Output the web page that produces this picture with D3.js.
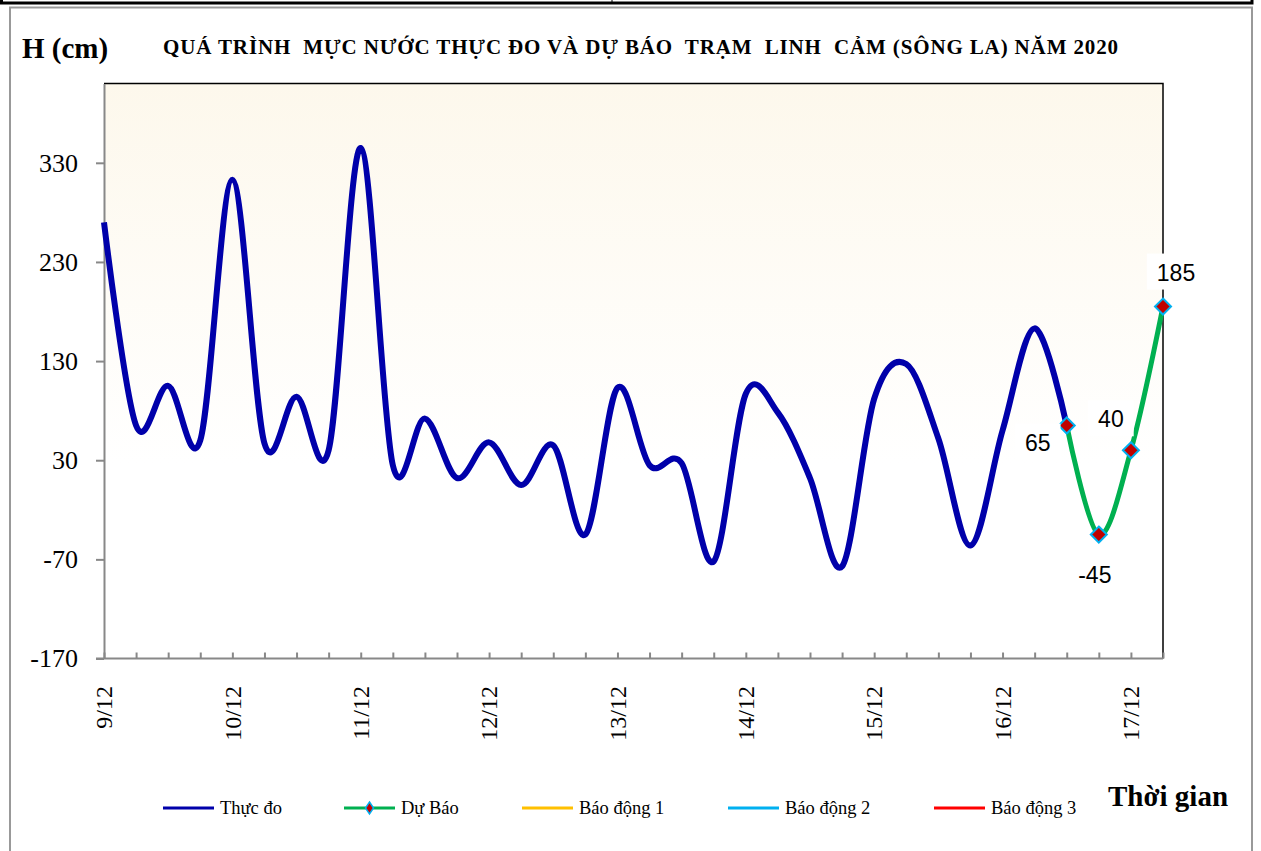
<!DOCTYPE html>
<html>
<head>
<meta charset="utf-8">
<script src="https://cdn.jsdelivr.net/npm/d3@7/dist/d3.min.js"></script>
<style>
  body { margin: 0; background: #fff; }
  svg text { white-space: pre; }
</style>
</head>
<body>
<div id="chart"></div>
<script>
// days on the axis, every day has 4 readings (0h, 6h, 12h, 18h)
var days = ["9/12", "10/12", "11/12", "12/12", "13/12", "14/12", "15/12", "16/12", "17/12"];
var hours = ["0h", "6h", "12h", "18h"];

// measured water level (cm), 9/12 0h .. 16/12 12h
var measured = [270, 65, 105, 50, 313, 47, 94, 40, 345, 25,
                72, 12, 48, 5, 45, -45, 103, 25, 27, -72,
                97, 78, 12, -77, 92, 127, 52, -56, 60, 163, 65];

// forecast (cm), 16/12 12h .. 17/12 6h
var forecast = [65, -45, 40, 185];
var forecastStart = 30;

var yTicks = [-170, -70, 30, 130, 230, 330];
var legendNames = ["Thực đo", "Dự Báo", "Báo động 1", "Báo động 2", "Báo động 3"];

window.onload = function () {

    var w = 1261;
    var h = 851;
    var left = 104, right = 1163, top = 83.5, bottom = 658.5;
    var serif = "'Liberation Serif', 'Times New Roman', serif";

    var categories = [];
    days.forEach(function (d) {
        hours.forEach(function (hh) { categories.push(d + " " + hh); });
    });
    categories = categories.slice(0, forecastStart + forecast.length);

    var svg = d3.select("#chart")
        .append("svg")
        .attr("width", w)
        .attr("height", h);

    // frames
    svg.append("rect")
        .attr("x", 10).attr("y", 7.5)
        .attr("width", 1242).attr("height", 900)
        .attr("fill", "none")
        .attr("stroke", "#999")
        .attr("stroke-width", 2);

    svg.append("path")
        .attr("d", "M1.5,-2V3H1252V-2")
        .attr("fill", "none")
        .attr("stroke", "#000")
        .attr("stroke-width", 3);
    svg.append("line")
        .attr("x1", 612).attr("x2", 612).attr("y1", 0).attr("y2", 3)
        .attr("stroke", "#000");

    var defs = svg.append("defs");
    var grad = defs.append("linearGradient")
        .attr("id", "bg")
        .attr("x1", 0).attr("y1", 0).attr("x2", 0).attr("y2", 1);
    grad.append("stop").attr("offset", "0%").attr("stop-color", "#fdf8ec");
    grad.append("stop").attr("offset", "66%").attr("stop-color", "#ffffff");

    var xScale = d3.scalePoint()
        .domain(categories)
        .range([left, right]);

    var yScale = d3.scaleLinear()
        .domain([-170, 410])
        .range([bottom, top]);

    svg.append("rect")
        .attr("x", left).attr("y", top)
        .attr("width", right - left).attr("height", bottom - top)
        .attr("fill", "url(#bg)");

    svg.append("path")
        .attr("d", "M" + left + "," + top + "H" + right + "V" + bottom)
        .attr("fill", "none")
        .attr("stroke", "#000")
        .attr("stroke-width", 1.5);

    // axes
    var yAxis = svg.append("g")
        .attr("transform", "translate(" + left + ",0)")
        .call(d3.axisLeft(yScale)
            .tickValues(yTicks)
            .tickSize(8).tickSizeOuter(0).tickPadding(18)
            .tickFormat(function (d) { return String(d); }));
    yAxis.selectAll("path, line").attr("stroke", "#888").attr("stroke-width", 2);
    yAxis.selectAll("text")
        .style("font-family", serif)
        .style("font-size", "26px")
        .attr("fill", "#000");

    var xAxis = svg.append("g")
        .attr("transform", "translate(0," + bottom + ")")
        .call(d3.axisBottom(xScale).tickSizeInner(-6).tickSizeOuter(0).tickFormat(""));
    xAxis.selectAll("path, line").attr("stroke", "#888").attr("stroke-width", 2);
    xAxis.select(".domain").attr("d", "M" + (left - 8) + ",0H" + right);

    svg.selectAll("text.day")
        .data(categories.filter(function (c, i) { return i % 4 === 0; }))
        .enter()
        .append("text")
        .attr("class", "day")
        .attr("transform", function (d) { return "translate(" + xScale(d) + ",686) rotate(-90)"; })
        .attr("dy", "0.34em")
        .attr("text-anchor", "end")
        .style("font-family", serif)
        .style("font-size", "24px")
        .text(function (d) { return d.split(" ")[0]; });

    // lines
    var line = d3.line()
        .x(function (d) { return xScale(d.c); })
        .y(function (d) { return yScale(d.v); })
        .curve(d3.curveCardinal.tension(0));

    var measuredPts = measured.map(function (v, i) { return { c: categories[i], v: v }; });
    var forecastPts = forecast.map(function (v, i) { return { c: categories[forecastStart + i], v: v }; });

    svg.append("path")
        .datum(measuredPts)
        .attr("d", line)
        .attr("fill", "none")
        .attr("stroke", "#0000aa")
        .attr("stroke-width", 6)
        .attr("stroke-linejoin", "round");

    svg.append("path")
        .datum(forecastPts)
        .attr("d", line)
        .attr("fill", "none")
        .attr("stroke", "#00b050")
        .attr("stroke-width", 5);

    svg.selectAll("path.mark")
        .data(forecastPts)
        .enter()
        .append("path")
        .attr("class", "mark")
        .attr("d", "M0,-8L8,0L0,8L-8,0Z")
        .attr("transform", function (d) { return "translate(" + xScale(d.c) + "," + yScale(d.v) + ")"; })
        .attr("fill", "#c00000")
        .attr("stroke", "#00b0f0")
        .attr("stroke-width", 2);

    // data labels with white boxes
    var labelOffsets = [[-29, 25], [-4, 48], [-20, -23], [13, -26]];
    var labels = svg.selectAll("g.lab")
        .data(forecastPts)
        .enter()
        .append("g")
        .attr("class", "lab")
        .attr("transform", function (d, i) {
            return "translate(" + (xScale(d.c) + labelOffsets[i][0]) + "," + (yScale(d.v) + labelOffsets[i][1]) + ")";
        });
    labels.append("rect").attr("fill", "#fff");
    labels.append("text")
        .attr("text-anchor", "middle")
        .style("font-family", "'Liberation Sans', Arial, sans-serif")
        .style("font-size", "23px")
        .text(function (d) { return d.v; });
    labels.each(function () {
        var g = d3.select(this);
        var b = g.select("text").node().getBBox();
        g.select("rect")
            .attr("x", b.x - 10).attr("y", b.y - 6)
            .attr("width", b.width + 20).attr("height", b.height + 10);
    });

    // titles
    svg.append("text")
        .attr("x", 22).attr("y", 58)
        .style("font-family", serif)
        .style("font-weight", "bold")
        .style("font-size", "29px")
        .text("H (cm)");

    svg.append("text")
        .attr("x", 163).attr("y", 54)
        .attr("textLength", 955)
        .attr("lengthAdjust", "spacing")
        .style("font-family", serif)
        .style("font-weight", "bold")
        .style("font-size", "21px")
        .text("QUÁ TRÌNH  MỰC NƯỚC THỰC ĐO VÀ DỰ BÁO  TRẠM  LINH  CẢM (SÔNG LA) NĂM 2020");

    svg.append("text")
        .attr("x", 1108).attr("y", 806)
        .style("font-family", serif)
        .style("font-weight", "bold")
        .style("font-size", "29px")
        .text("Thời gian");

    // legend
    var legendColors = ["#0000aa", "#00b050", "#ffc000", "#00b0f0", "#ff0000"];
    var legendX = [163, 344, 522, 728, 934];
    var leg = svg.selectAll("g.leg")
        .data(legendNames)
        .enter()
        .append("g")
        .attr("class", "leg")
        .attr("transform", function (d, i) { return "translate(" + legendX[i] + ",808)"; });
    leg.append("line")
        .attr("x1", 0).attr("x2", 51)
        .attr("stroke", function (d, i) { return legendColors[i]; })
        .attr("stroke-width", 3);
    leg.filter(function (d, i) { return i === 1; })
        .append("path")
        .attr("d", "M25.5,-6L29.5,0L25.5,6L21.5,0Z")
        .attr("fill", "#c00000")
        .attr("stroke", "#00b0f0")
        .attr("stroke-width", 1.5);
    leg.append("text")
        .attr("x", 57).attr("y", 6)
        .style("font-family", serif)
        .style("font-size", "18.5px")
        .text(function (d) { return d; });
};
</script>
</body>
</html>
